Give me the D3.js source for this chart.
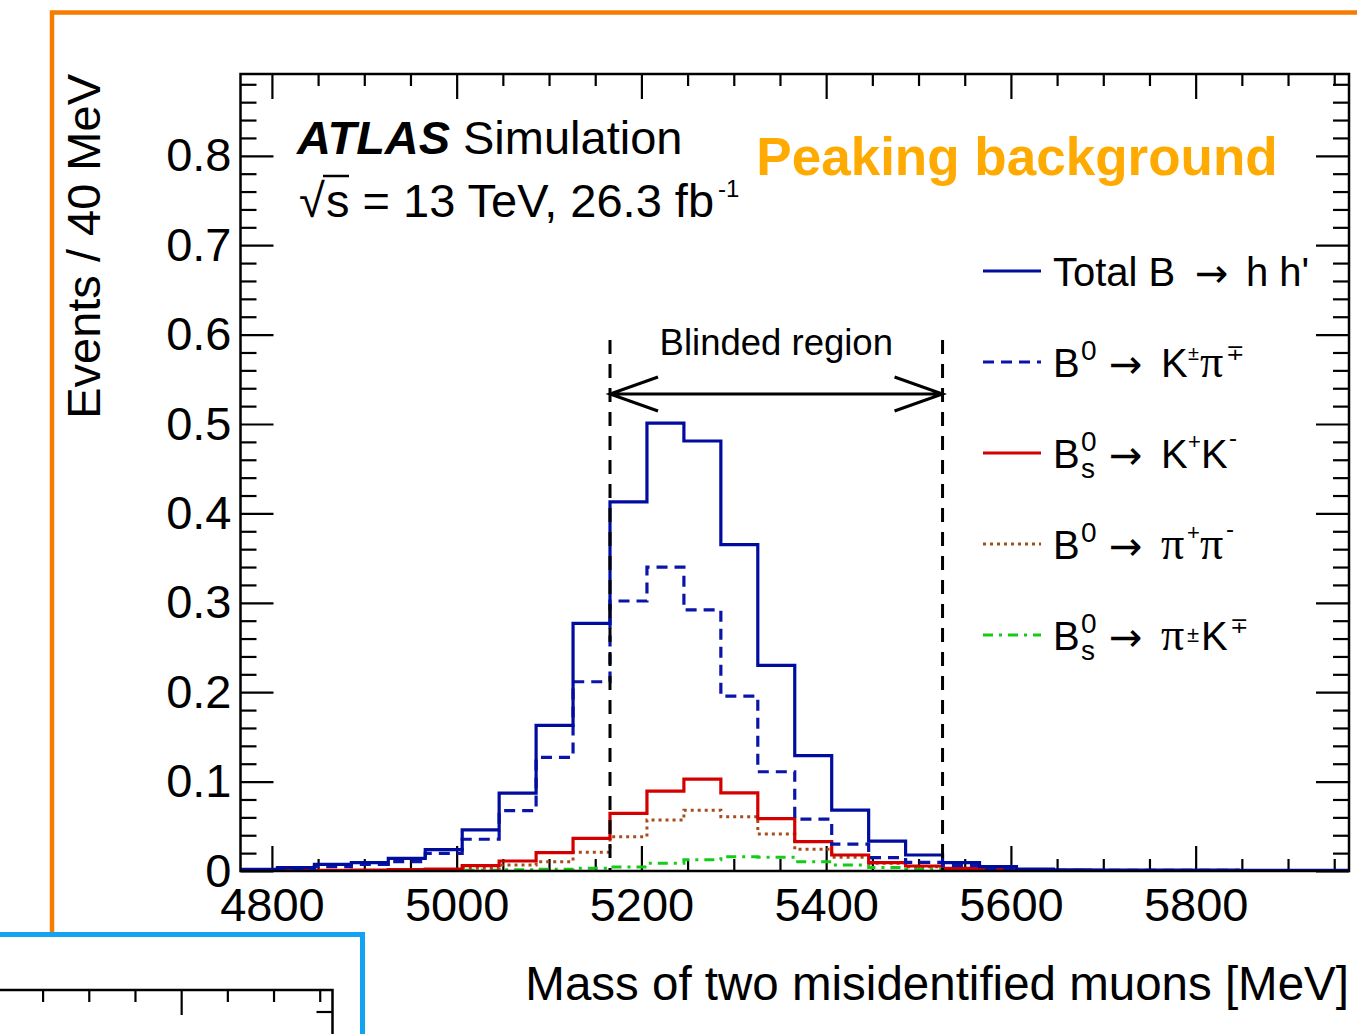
<!DOCTYPE html>
<html>
<head>
<meta charset="utf-8">
<script src="https://cdn.jsdelivr.net/npm/d3@7"></script>
<style>
  html, body { margin: 0; padding: 0; background: #fff; }
  svg { display: block; font-family: "Liberation Sans", Arial, Helvetica, sans-serif; }
</style>
</head>
<body>
<svg id="chart" width="1357" height="1034"></svg>
<script>
// ---- data: mass histograms, 40 MeV bins ----
const binEdges = [4766, 4806, 4846, 4886, 4926, 4966, 5006, 5046, 5086, 5126,
                  5166, 5206, 5246, 5286, 5326, 5366, 5406, 5446, 5486, 5526,
                  5566, 5606, 5646, 5686, 5726, 5766, 5806, 5846, 5886, 5926, 5966];

const totalBhh = [0.0019, 0.0037, 0.0075, 0.0093, 0.0142, 0.024, 0.046, 0.087, 0.163, 0.277,
                  0.413, 0.501, 0.481, 0.365, 0.230, 0.129, 0.068, 0.0335, 0.0179, 0.0093,
                  0.0048, 0.002, 0.0012, 0.001, 0.001, 0.001, 0.001, 0.0008, 0.0008, 0.0008];

const b0KPi = [0.0015, 0.003, 0.0048, 0.0075, 0.0104, 0.0198, 0.0355, 0.0675, 0.127, 0.2117,
               0.302, 0.340, 0.292, 0.1955, 0.111, 0.058, 0.030, 0.015, 0.0097, 0.006,
               0.003, 0.0012, 0.0008, 0.0007, 0.0007, 0.0006, 0.0006, 0.0005, 0.0005, 0.0005];

const bsKK = [0.0005, 0.0006, 0.0008, 0.001, 0.0015, 0.0022, 0.006, 0.0112, 0.0205, 0.0365,
              0.0644, 0.0894, 0.1028, 0.0875, 0.0585, 0.0328, 0.0179, 0.0093, 0.0056, 0.003,
              0.0015, 0.0008, 0.0005, 0.0005, 0.0005, 0.0004, 0.0004, 0.0004, 0.0004, 0.0004];

const b0PiPi = [0.0003, 0.0003, 0.0003, 0.0003, 0.0006, 0.0015, 0.003, 0.0067, 0.0104, 0.0209,
                0.0384, 0.057, 0.068, 0.0607, 0.0413, 0.0242, 0.0153, 0.0086, 0.0048, 0.0025,
                0.001, 0.0004, 0.0004, 0.0004, 0.0003, 0.0003, 0.0003, 0.0003, 0.0003, 0.0003];

const bsPiK = [0.0003, 0.0003, 0.0003, 0.0003, 0.0003, 0.0003, 0.0008, 0.0015, 0.002, 0.003,
               0.0045, 0.0086, 0.0125, 0.016, 0.0153, 0.0104, 0.0067, 0.004, 0.0025, 0.0015,
               0.0008, 0.0003, 0.0003, 0.0003, 0.0003, 0.0003, 0.0003, 0.0003, 0.0003, 0.0003];

const xTickLabels = [4800, 5000, 5200, 5400, 5600, 5800];
const yTickLabels = [0, 0.1, 0.2, 0.3, 0.4, 0.5, 0.6, 0.7, 0.8];
const blindedRegion = [5166, 5526];

// ---- layout ----
const svg = d3.select("#chart");
const frame = { x0: 240.5, x1: 1349, y0: 74, y1: 871 };
const yMax = 0.8915;
const FS = 47;

const x = d3.scaleLinear().domain([binEdges[0], binEdges[binEdges.length - 1]]).range([frame.x0, frame.x1]);
const y = d3.scaleLinear().domain([0, yMax]).range([frame.y1, frame.y0]);

const xMinor = d3.range(4800, binEdges[binEdges.length - 1], 50).filter(v => v % 200 !== 0);
const yMinor = d3.range(0, yMax, 0.02).filter(v => Math.abs(v * 10 - Math.round(v * 10)) > 1e-6);

// outer highlight frame
svg.append("path")
  .attr("d", "M52,932 V12.5 H1357")
  .attr("fill", "none").attr("stroke", "#f57c00").attr("stroke-width", 4.5);

// ---- axes ----
function styleAxis(g) {
  g.select(".domain").remove();
  g.attr("font-family", null).attr("font-size", FS);
  g.selectAll("line").attr("stroke", "#000").attr("stroke-width", 2.2);
  g.selectAll("text").attr("fill", "#000");
}

svg.append("g").attr("transform", `translate(0,${frame.y1})`)
  .call(d3.axisBottom(x).tickValues(xTickLabels).tickSize(-25).tickPadding(17).tickFormat(d3.format("d")))
  .call(styleAxis);
svg.append("g").attr("transform", `translate(0,${frame.y1})`)
  .call(d3.axisBottom(x).tickValues(xMinor).tickSize(-12).tickFormat(""))
  .call(styleAxis);
svg.append("g").attr("transform", `translate(0,${frame.y0})`)
  .call(d3.axisTop(x).tickValues(xTickLabels).tickSize(-25).tickFormat(""))
  .call(styleAxis);
svg.append("g").attr("transform", `translate(0,${frame.y0})`)
  .call(d3.axisTop(x).tickValues(xMinor).tickSize(-12).tickFormat(""))
  .call(styleAxis);

svg.append("g").attr("transform", `translate(${frame.x0},0)`)
  .call(d3.axisLeft(y).tickValues(yTickLabels).tickSize(-33).tickPadding(9)
        .tickFormat(d => d === 0 ? "0" : d.toFixed(1)))
  .call(styleAxis);
svg.append("g").attr("transform", `translate(${frame.x0},0)`)
  .call(d3.axisLeft(y).tickValues(yMinor).tickSize(-16).tickFormat(""))
  .call(styleAxis);
svg.append("g").attr("transform", `translate(${frame.x1},0)`)
  .call(d3.axisRight(y).tickValues(yTickLabels).tickSize(-33).tickFormat(""))
  .call(styleAxis);
svg.append("g").attr("transform", `translate(${frame.x1},0)`)
  .call(d3.axisRight(y).tickValues(yMinor).tickSize(-16).tickFormat(""))
  .call(styleAxis);

// axis titles
svg.append("text")
  .attr("transform", `translate(100,${frame.y0}) rotate(-90)`)
  .attr("text-anchor", "end").attr("font-size", FS)
  .text("Events / 40 MeV");
svg.append("text")
  .attr("x", frame.x1).attr("y", 1000)
  .attr("text-anchor", "end").attr("font-size", 47.5)
  .text("Mass of two misidentified muons [MeV]");

// ---- histograms ----
svg.append("clipPath").attr("id", "plotClip")
  .append("rect").attr("x", frame.x0).attr("y", frame.y0)
  .attr("width", frame.x1 - frame.x0).attr("height", frame.y1 - frame.y0);

const series = [
  { name: "bsPiK",  values: bsPiK,    color: "#14cc14", dash: "10,6,3,6", width: 3 },
  { name: "b0PiPi", values: b0PiPi,   color: "#a64d1c", dash: "3,4",      width: 3 },
  { name: "bsKK",   values: bsKK,     color: "#d40000", dash: null,       width: 3.2 },
  { name: "b0KPi",  values: b0KPi,    color: "#0a14a8", dash: "11,7",     width: 3.2 },
  { name: "total",  values: totalBhh, color: "#000c9e", dash: null,       width: 3.2 }
];

const stepLine = d3.line().x(d => x(d[0])).y(d => y(d[1])).curve(d3.curveStepAfter);
function histPoints(vals) {
  const pts = [[binEdges[0], 0]];
  vals.forEach((v, i) => pts.push([binEdges[i], v]));
  pts.push([binEdges[vals.length], vals[vals.length - 1]]);
  pts.push([binEdges[vals.length], 0]);
  return pts;
}

const histG = svg.append("g").attr("clip-path", "url(#plotClip)");
histG.selectAll("path.hist").data(series).join("path")
  .attr("class", "hist")
  .attr("d", d => stepLine(histPoints(d.values)))
  .attr("fill", "none")
  .attr("stroke", d => d.color)
  .attr("stroke-width", d => d.width)
  .attr("stroke-dasharray", d => d.dash)
  .attr("stroke-linejoin", "miter");

// ---- blinded region ----
const blindTop = 0.594, arrowLevel = 0.5336, blindLabel = 0.577;
svg.append("g").selectAll("line").data(blindedRegion).join("line")
  .attr("x1", d => x(d)).attr("x2", d => x(d))
  .attr("y1", y(blindTop)).attr("y2", frame.y1)
  .attr("stroke", "#000").attr("stroke-width", 3).attr("stroke-dasharray", "14,10");

const ay = y(arrowLevel), ax0 = x(blindedRegion[0]), ax1 = x(blindedRegion[1]);
svg.append("path")
  .attr("d", `M${ax0},${ay} H${ax1} M${ax0 + 48},${ay - 17} L${ax0},${ay} L${ax0 + 48},${ay + 17}` +
             ` M${ax1 - 48},${ay - 17} L${ax1},${ay} L${ax1 - 48},${ay + 17}`)
  .attr("fill", "none").attr("stroke", "#000").attr("stroke-width", 3);
svg.append("text")
  .attr("x", (ax0 + ax1) / 2).attr("y", y(blindLabel))
  .attr("text-anchor", "middle").attr("font-size", 36.5)
  .text("Blinded region");

// ---- labels ----
const atlas = svg.append("text").attr("x", 297).attr("y", 154).attr("font-size", FS);
atlas.append("tspan").attr("font-weight", "bold").attr("font-style", "italic").text("ATLAS");
atlas.append("tspan").attr("x", 463).text("Simulation");

// sqrt(s) line: radical glyph, overline across "s", then the rest
const rad = svg.append("text").attr("x", 299).attr("y", 217).attr("font-size", FS).text("\u221A");
const radBox = rad.node().getBBox();
const lumiX = radBox.x + radBox.width + 1;
const lumi = svg.append("text").attr("x", lumiX).attr("y", 217).attr("font-size", FS)
  .text("s = 13 TeV, 26.3 fb");
const lumiEnd = lumiX + lumi.node().getComputedTextLength();
svg.append("text").attr("x", lumiEnd + 4).attr("y", 197).attr("font-size", 24).text("-1");
svg.append("line")
  .attr("x1", radBox.x + radBox.width - 2).attr("x2", lumiX + 23)
  .attr("y1", 176).attr("y2", 176)
  .attr("stroke", "#000").attr("stroke-width", 2.5);

svg.append("text")
  .attr("x", 1017).attr("y", 175).attr("text-anchor", "middle")
  .attr("font-size", 53).attr("font-weight", "bold").attr("fill", "#ffaa00")
  .text("Peaking background");

// ---- legend ----
const ARROW = { t: "\u2192", arrow: true };
const legendRows = [
  { s: series[4], parts: [
      { t: "Total B", x: 1053 }, { ...ARROW, x: 1195 }, { t: "h h'", x: 1246 } ] },
  { s: series[3], parts: [
      { t: "B", x: 1053 }, { t: "0", x: 1081, dy: -17, size: 28 }, { ...ARROW, x: 1109 },
      { t: "K", x: 1161 }, { t: "\u00B1", x: 1188, dy: -17, size: 20 },
      { t: "\u03C0", x: 1200, serif: true }, { t: "\u2213", x: 1226, dy: -17, size: 22 } ] },
  { s: series[2], parts: [
      { t: "B", x: 1053 }, { t: "0", x: 1081, dy: -17, size: 28 }, { t: "s", x: 1081, dy: 10, size: 28 },
      { ...ARROW, x: 1109 }, { t: "K", x: 1161 }, { t: "+", x: 1188, dy: -19, size: 22 },
      { t: "K", x: 1201 }, { t: "-", x: 1229, dy: -22, size: 24 } ] },
  { s: series[1], parts: [
      { t: "B", x: 1053 }, { t: "0", x: 1081, dy: -17, size: 28 }, { ...ARROW, x: 1109 },
      { t: "\u03C0", x: 1161, serif: true }, { t: "+", x: 1187, dy: -19, size: 22 },
      { t: "\u03C0", x: 1200, serif: true }, { t: "-", x: 1226, dy: -22, size: 24 } ] },
  { s: series[0], parts: [
      { t: "B", x: 1053 }, { t: "0", x: 1081, dy: -17, size: 28 }, { t: "s", x: 1081, dy: 10, size: 28 },
      { ...ARROW, x: 1109 }, { t: "\u03C0", x: 1161, serif: true },
      { t: "\u00B1", x: 1187, dy: -8, size: 22 }, { t: "K", x: 1201 },
      { t: "\u2213", x: 1230, dy: -17, size: 22 } ] }
];

const legendTop = 271, legendStep = 91;
legendRows.forEach((row, i) => {
  const ly = legendTop + i * legendStep;
  svg.append("line")
    .attr("x1", 983).attr("x2", 1041).attr("y1", ly).attr("y2", ly)
    .attr("stroke", row.s.color).attr("stroke-width", row.s.width)
    .attr("stroke-dasharray", row.s.dash);
  const t = svg.append("text").attr("font-size", 40);
  const base = ly + 15;
  row.parts.forEach(p => {
    const ts = t.append("tspan").attr("x", p.x).attr("y", base + (p.dy || 0)).text(p.t);
    if (p.size) ts.attr("font-size", p.size);
    if (p.serif) ts.attr("font-family", "'Liberation Serif', 'DejaVu Serif', serif").attr("font-size", 46);
    if (p.arrow) ts.attr("font-family", "'DejaVu Sans', sans-serif").attr("font-size", 40).attr("y", base + 1);
  });
});

// ---- neighbouring panel corner (bottom-left) ----
svg.append("path")
  .attr("d", "M0,934.5 H362.5 V1034")
  .attr("fill", "none").attr("stroke", "#12a4f2").attr("stroke-width", 5);

const panel = { x1: 332.5, y0: 990 };
const xPanel = d3.scaleLinear()
  .domain([binEdges[0], binEdges[binEdges.length - 1]])
  .range([panel.x1 - (frame.x1 - frame.x0), panel.x1]);
svg.append("path")
  .attr("d", `M0,${panel.y0} H${panel.x1} V1034`)
  .attr("fill", "none").attr("stroke", "#000").attr("stroke-width", 2.5);
svg.append("g").attr("transform", `translate(2,${panel.y0})`)
  .call(d3.axisTop(xPanel).tickValues(xTickLabels).tickSize(-25).tickFormat(""))
  .call(styleAxis);
svg.append("g").attr("transform", `translate(2,${panel.y0})`)
  .call(d3.axisTop(xPanel).tickValues(xMinor).tickSize(-12).tickFormat(""))
  .call(styleAxis);
svg.append("line")
  .attr("x1", panel.x1 - 16).attr("x2", panel.x1).attr("y1", 1012).attr("y2", 1012)
  .attr("stroke", "#000").attr("stroke-width", 2.2);

// plot frame on top
svg.append("rect")
  .attr("x", frame.x0).attr("y", frame.y0)
  .attr("width", frame.x1 - frame.x0).attr("height", frame.y1 - frame.y0)
  .attr("fill", "none").attr("stroke", "#000").attr("stroke-width", 2.5);
</script>
</body>
</html>
